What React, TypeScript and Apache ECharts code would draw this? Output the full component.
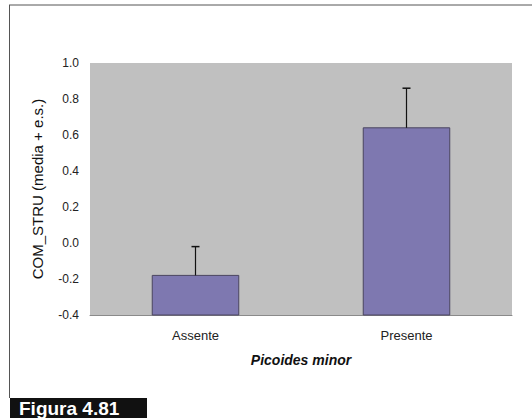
import React, { useEffect, useRef } from "react";
import * as echarts from "echarts";

const categories = ["Assente", "Presente"];
const means = [-0.18, 0.64];
const stdErrors = [0.16, 0.22];
const yMin = -0.4;
const yMax = 1.0;
const yStep = 0.2;

export default function App() {
  const ref = useRef<HTMLDivElement>(null);
  useEffect(() => {
    if (!ref.current) return;
    const chart = echarts.init(ref.current, undefined, { renderer: "svg" });
    const barData = categories.map((c, i) => [i, means[i]]);
    const errData = categories.map((c, i) => [i, means[i], means[i] + stdErrors[i]]);
    chart.setOption({
      animation: false,
      backgroundColor: "#ffffff",
      textStyle: { fontFamily: "Liberation Sans" },
      grid: { left: 90, top: 63, width: 422, height: 252, show: true, backgroundColor: "#c0c0c0", borderWidth: 0 },
      xAxis: {
        type: "category",
        data: categories,
        axisLine: { show: true, onZero: false, lineStyle: { color: "#8a8a8a", width: 1 } },
        axisTick: { show: false },
        axisLabel: { color: "#222", fontSize: 13, margin: 14 },
        name: "Picoides minor",
        nameLocation: "middle",
        nameGap: 38,
        nameTextStyle: { color: "#111", fontSize: 14, fontStyle: "italic", fontWeight: "bold" },
      },
      yAxis: {
        type: "value",
        min: yMin,
        max: yMax,
        interval: yStep,
        axisLine: { show: false },
        axisTick: { show: false },
        splitLine: { show: false },
        axisLabel: { color: "#222", fontSize: 12, margin: 11, formatter: (v: number) => v.toFixed(1) },
        name: "COM_STRU (media + e.s.)",
        nameLocation: "middle",
        nameRotate: 90,
        nameGap: 45,
        nameTextStyle: { color: "#111", fontSize: 15 },
      },
      series: [
        {
          type: "custom",
          data: barData,
          renderItem: (params: any, api: any) => {
            const x = api.value(0);
            const v = api.value(1);
            const top = api.coord([x, v]);
            const base = api.coord([x, yMin]);
            const bw = api.size([1, 0])[0] * 0.41;
            return {
              type: "rect",
              shape: { x: top[0] - bw / 2, y: top[1], width: bw, height: base[1] - top[1] },
              style: { fill: "#7e78b0", stroke: "#4a4560", lineWidth: 1 },
            };
          },
          z: 2,
        },
        {
          type: "custom",
          data: errData,
          renderItem: (params: any, api: any) => {
            const x = api.value(0);
            const lo = api.coord([x, api.value(1)]);
            const hi = api.coord([x, api.value(2)]);
            return {
              type: "group",
              children: [
                { type: "line", shape: { x1: lo[0], y1: lo[1], x2: hi[0], y2: hi[1] }, style: { stroke: "#111", lineWidth: 1.2 } },
                { type: "line", shape: { x1: hi[0] - 4, y1: hi[1], x2: hi[0] + 4, y2: hi[1] }, style: { stroke: "#111", lineWidth: 1.5 } },
              ],
            };
          },
          z: 3,
        },
      ],
      graphic: [
        { type: "line", shape: { x1: 9, y1: 5, x2: 532, y2: 5 }, style: { stroke: "#555", lineWidth: 1 } },
        { type: "line", shape: { x1: 9.5, y1: 5, x2: 9.5, y2: 398 }, style: { stroke: "#555", lineWidth: 1 } },
        { type: "rect", shape: { x: 10, y: 398, width: 137, height: 20 }, style: { fill: "#111" } },
        {
          type: "text",
          x: 19,
          y: 408,
          style: { text: "Figura 4.81", fill: "#ffffff", font: "bold 19px 'Liberation Sans'", verticalAlign: "middle" },
        },
      ],
    });
    return () => chart.dispose();
  }, []);
  return <div ref={ref} style={{ position: "fixed", left: 0, top: 0, width: 532, height: 418 }} />;
}
